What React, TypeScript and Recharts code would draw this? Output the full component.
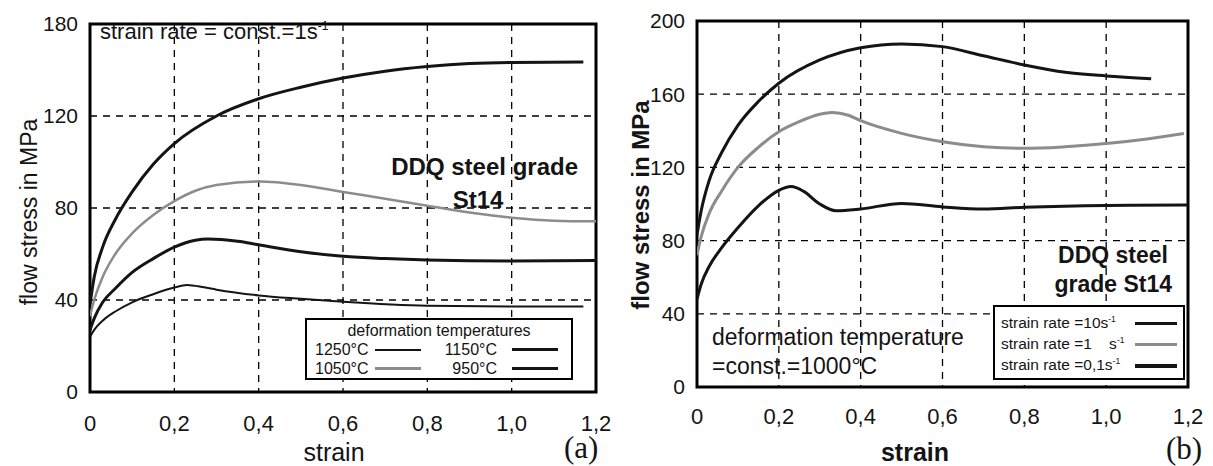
import { LineChart, Line, XAxis, YAxis, CartesianGrid, ReferenceArea } from 'recharts';

// (a) strain rate 1 1/s, four deformation temperatures
const strainA950 = [0, 0.01, 0.03, 0.06, 0.1, 0.15, 0.2, 0.3, 0.4, 0.5, 0.6, 0.7, 0.8, 0.9, 1.0, 1.17];
const stressA950 = [38, 50, 63, 75, 87, 99, 108, 120, 127.5, 132.5, 136.5, 139.5, 141.5, 142.8, 143.3, 143.5];
const strainA1050 = [0, 0.01, 0.03, 0.06, 0.1, 0.15, 0.2, 0.25, 0.3, 0.4, 0.5, 0.6, 0.7, 0.8, 0.9, 1.0, 1.1, 1.2];
const stressA1050 = [33, 40, 50, 60, 69, 77, 83, 87.5, 90, 91.5, 90, 87, 84, 81, 78, 75.8, 74.5, 74.2];
const strainA1150 = [0, 0.01, 0.03, 0.06, 0.1, 0.15, 0.2, 0.25, 0.28, 0.35, 0.4, 0.5, 0.6, 0.7, 0.8, 1.0, 1.2];
const stressA1150 = [27, 32, 39, 45, 52, 58, 63, 66, 66.5, 65.5, 64, 61, 59, 58, 57.4, 57, 57.2];
const strainA1250 = [0, 0.01, 0.03, 0.06, 0.1, 0.15, 0.2, 0.23, 0.27, 0.3, 0.4, 0.5, 0.6, 0.8, 1.0, 1.17];
const stressA1250 = [24, 27, 31, 35, 39, 42.5, 45.4, 46.5, 45.5, 44.5, 42, 40.5, 39.2, 37.5, 37.2, 37.2];

// (b) 1000 °C, three strain rates
const strainB10 = [0, 0.01, 0.03, 0.06, 0.1, 0.15, 0.2, 0.3, 0.4, 0.5, 0.6, 0.7, 0.8, 0.9, 1.0, 1.11];
const stressB10 = [83, 96, 113, 128, 143, 156, 166, 178.7, 185.4, 187.5, 186, 181, 176, 172, 170, 168.5];
const strainB1 = [0, 0.01, 0.03, 0.06, 0.1, 0.15, 0.2, 0.25, 0.3, 0.33, 0.37, 0.4, 0.5, 0.6, 0.7, 0.8, 0.9, 1.0, 1.1, 1.19];
const stressB1 = [72, 82, 95, 107, 120, 131, 139.5, 145, 149, 150, 148.5, 145.5, 138.6, 134, 131.3, 130.4, 131.3, 133, 135.5, 138.5];
const strainB01 = [0, 0.01, 0.03, 0.06, 0.1, 0.15, 0.2, 0.23, 0.26, 0.3, 0.34, 0.4, 0.5, 0.6, 0.7, 0.8, 1.0, 1.2];
const stressB01 = [48, 56, 66, 76, 87, 99, 107.5, 109.5, 107, 100, 96.3, 97.3, 100.3, 98.4, 97.2, 98.2, 99.2, 99.4];

const xTicks = [0, 0.2, 0.4, 0.6, 0.8, 1.0, 1.2];
const yTicksA = [0, 40, 80, 120, 160];
const yTickLabelsA = ['0', '40', '80', '120', '180']; // top label printed as 180 in the original
const yTicksB = [0, 40, 80, 120, 160, 200];

const FONT = '"Liberation Sans", Arial, sans-serif';
const BLACK = '#141414';
const GREY = '#8c8c8c';

const toPoints = (xs: number[], ys: number[]) => xs.map((x, i) => ({ x, y: ys[i] }));
const fmtX = (v: number) => (v === 0 ? '0' : v.toFixed(1).replace('.', ','));

function Text({ x, y, size, bold, children, style }: any) {
  return (
    <div
      style={{
        position: 'absolute',
        left: x,
        top: y,
        fontFamily: FONT,
        fontSize: size,
        fontWeight: bold ? 700 : 400,
        color: BLACK,
        whiteSpace: 'pre',
        lineHeight: 1,
        ...style,
      }}
    >
      {children}
    </div>
  );
}

function Sup({ children }: any) {
  return <span style={{ fontSize: '0.55em', verticalAlign: '0.75em' }}>{children}</span>;
}

function Swatch({ color, width }: { color: string; width: number }) {
  return <span style={{ display: 'inline-block', width: 46, height: width, background: color, verticalAlign: 'middle' }} />;
}

function ChartA() {
  return (
    <LineChart width={620} height={466} margin={{ top: 24, right: 24, bottom: 24, left: 0 }}>
      <CartesianGrid stroke="#000" strokeWidth={1.3} strokeDasharray="7 6" />
      <XAxis
        type="number"
        dataKey="x"
        domain={[0, 1.2]}
        ticks={xTicks}
        tickFormatter={fmtX}
        axisLine={false}
        tickLine={false}
        tickSize={0}
        tickMargin={23}
        height={50}
        tick={{ fill: BLACK, fontSize: 22, fontFamily: FONT }}
        allowDataOverflow
      />
      <YAxis
        type="number"
        domain={[0, 160]}
        ticks={yTicksA}
        tickFormatter={(v: number) => yTickLabelsA[yTicksA.indexOf(v)]}
        axisLine={false}
        tickLine={false}
        tickSize={0}
        tickMargin={12}
        width={90}
        tick={{ fill: BLACK, fontSize: 21, fontFamily: FONT }}
      />
      <ReferenceArea x1={0} x2={1.2} y1={0} y2={160} fill="none" stroke="#000" strokeWidth={3} ifOverflow="visible" />
      <Line data={toPoints(strainA950, stressA950)} dataKey="y" type="monotone" stroke={BLACK} strokeWidth={3} dot={false} isAnimationActive={false} />
      <Line data={toPoints(strainA1050, stressA1050)} dataKey="y" type="monotone" stroke={GREY} strokeWidth={2.5} dot={false} isAnimationActive={false} />
      <Line data={toPoints(strainA1150, stressA1150)} dataKey="y" type="monotone" stroke={BLACK} strokeWidth={3} dot={false} isAnimationActive={false} />
      <Line data={toPoints(strainA1250, stressA1250)} dataKey="y" type="monotone" stroke={BLACK} strokeWidth={2} dot={false} isAnimationActive={false} />
    </LineChart>
  );
}

function ChartB() {
  return (
    <LineChart width={603} height={466} margin={{ top: 21, right: 25, bottom: 29, left: 0 }}>
      <CartesianGrid stroke="#000" strokeWidth={1.3} strokeDasharray="7 6" />
      <XAxis
        type="number"
        dataKey="x"
        domain={[0, 1.2]}
        ticks={xTicks}
        tickFormatter={fmtX}
        axisLine={false}
        tickLine={false}
        tickSize={0}
        tickMargin={21}
        height={50}
        tick={{ fill: BLACK, fontSize: 22, fontFamily: FONT }}
        allowDataOverflow
      />
      <YAxis
        type="number"
        domain={[0, 200]}
        ticks={yTicksB}
        axisLine={false}
        tickLine={false}
        tickSize={0}
        tickMargin={12}
        width={87}
        tick={{ fill: BLACK, fontSize: 21, fontFamily: FONT }}
      />
      <ReferenceArea x1={0} x2={1.2} y1={0} y2={200} fill="none" stroke="#000" strokeWidth={3} ifOverflow="visible" />
      <Line data={toPoints(strainB10, stressB10)} dataKey="y" type="monotone" stroke={BLACK} strokeWidth={3} dot={false} isAnimationActive={false} />
      <Line data={toPoints(strainB1, stressB1)} dataKey="y" type="monotone" stroke={GREY} strokeWidth={3} dot={false} isAnimationActive={false} />
      <Line data={toPoints(strainB01, stressB01)} dataKey="y" type="monotone" stroke={BLACK} strokeWidth={3} dot={false} isAnimationActive={false} />
    </LineChart>
  );
}

export default function App() {
  return (
    <div style={{ position: 'absolute', left: 0, top: 0, width: 1213, height: 466, background: '#fff', overflow: 'hidden' }}>
      <div style={{ position: 'absolute', left: 0, top: 0 }}>
        <ChartA />
      </div>
      <div style={{ position: 'absolute', left: 610, top: 0 }}>
        <ChartB />
      </div>

      {/* panel (a) annotations */}
      <Text x={29} y={212} size={23} style={{ transform: 'translate(-50%, -50%) rotate(-90deg)' }}>flow stress in MPa</Text>
      <Text x={334} y={452} size={25} style={{ transform: 'translate(-50%, -50%)' }}>strain</Text>
      <Text x={100} y={20} size={22}>strain rate = const.=1s<Sup>-1</Sup></Text>
      <Text x={578} y={155} size={24} bold style={{ transform: 'translateX(-100%)' }}>DDQ steel grade</Text>
      <Text x={478} y={188} size={24} bold style={{ transform: 'translateX(-50%)' }}>St14</Text>
      <Text x={564} y={432} size={31} style={{ fontFamily: '"Liberation Serif", serif' }}>(a)</Text>
      <div
        style={{
          position: 'absolute', left: 305, top: 318, width: 264, height: 58,
          border: '2px solid #000', background: '#fff', fontFamily: FONT, color: BLACK, fontSize: 16,
        }}
      >
        <div style={{ textAlign: 'center', marginTop: 1, lineHeight: '19px' }}>deformation temperatures</div>
        <div style={{ display: 'flex', alignItems: 'center', height: 19, marginLeft: 8 }}>
          <span style={{ width: 60 }}>1250°C</span><Swatch color={BLACK} width={2} />
          <span style={{ width: 76, textAlign: 'right', marginRight: 15 }}>1150°C</span><Swatch color={BLACK} width={3.5} />
        </div>
        <div style={{ display: 'flex', alignItems: 'center', height: 19, marginLeft: 8 }}>
          <span style={{ width: 60 }}>1050°C</span><Swatch color={GREY} width={2.5} />
          <span style={{ width: 76, textAlign: 'right', marginRight: 15 }}>950°C</span><Swatch color={BLACK} width={3.5} />
        </div>
      </div>

      {/* panel (b) annotations */}
      <Text x={641} y={205} size={24} bold style={{ transform: 'translate(-50%, -50%) rotate(-90deg)' }}>flow stress in MPa</Text>
      <Text x={915} y={452} size={25} bold style={{ transform: 'translate(-50%, -50%)' }}>strain</Text>
      <Text x={1168} y={244} size={23} bold style={{ transform: 'translateX(-100%)' }}>DDQ steel</Text>
      <Text x={1172} y={273} size={23} bold style={{ transform: 'translateX(-100%)' }}>grade St14</Text>
      <Text x={712} y={326} size={23}>deformation temperature</Text>
      <Text x={712} y={355} size={23}>=const.=1000°C</Text>
      <Text x={1166} y={433} size={31} style={{ fontFamily: '"Liberation Serif", serif' }}>(b)</Text>
      <div
        style={{
          position: 'absolute', left: 993, top: 305, width: 192, height: 75,
          border: '2px solid #000', background: '#fff', fontFamily: FONT, color: BLACK, fontSize: 15.5,
          padding: '6px 0 0 6px', boxSizing: 'border-box',
        }}
      >
        {[
          { label: <>strain rate =10s<Sup>-1</Sup></>, color: BLACK, w: 3 },
          { label: <>strain rate =1    s<Sup>-1</Sup></>, color: GREY, w: 2.5 },
          { label: <>strain rate =0,1s<Sup>-1</Sup></>, color: BLACK, w: 4 },
        ].map((r, i) => (
          <div key={i} style={{ display: 'flex', alignItems: 'center', height: 21 }}>
            <span style={{ width: 134, whiteSpace: 'pre' }}>{r.label}</span>
            <span style={{ display: 'inline-block', width: 42, height: r.w, background: r.color }} />
          </div>
        ))}
      </div>
    </div>
  );
}
